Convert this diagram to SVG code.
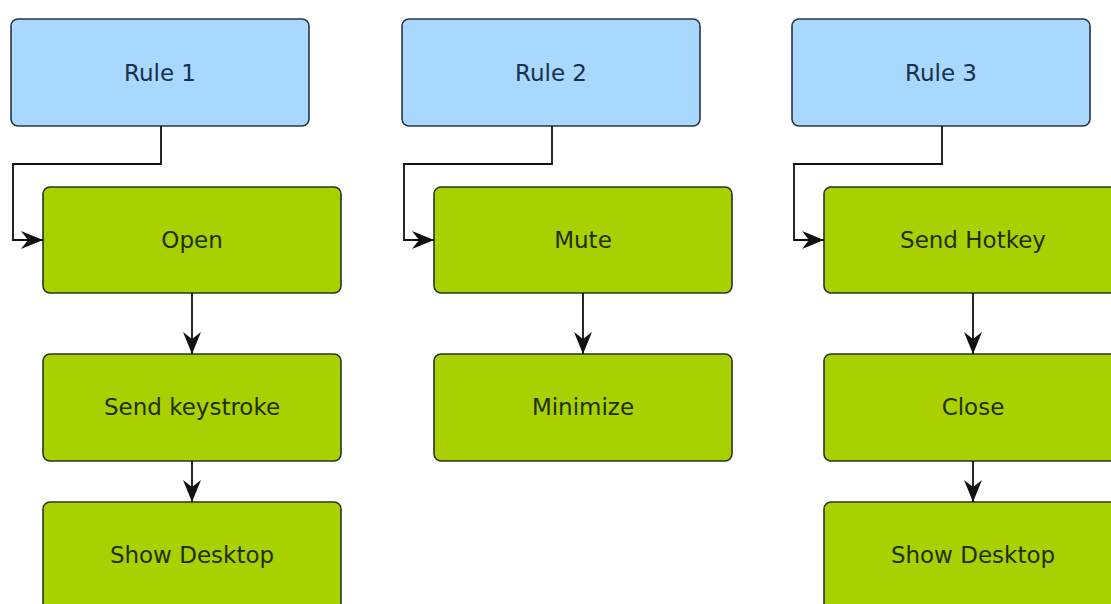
<svg xmlns="http://www.w3.org/2000/svg" width="1111" height="604" viewBox="0 0 1111 604">
  <defs>
    <marker id="arrow" markerUnits="userSpaceOnUse" markerWidth="24" markerHeight="20" viewBox="-23 -10 24 20" refX="0" refY="0" orient="auto">
      <path d="M0,0 L-22,-9 L-15,0 L-22,9 Z" fill="#111"/>
    </marker>
  </defs>
  <style>
    .rule rect { fill: #a8d8fe; stroke: #2b3440; stroke-width: 1.6; }
    .action rect { fill: #a9d101; stroke: #2b3320; stroke-width: 1.6; }
    text { font-family: "DejaVu Sans", Verdana, sans-serif; font-size: 23px; text-anchor: middle; }
    .rule text { fill: #1a3050; }
    .action text { fill: #1e3000; }
    .link { fill: none; stroke: #111; stroke-width: 1.8; marker-end: url(#arrow); }
  </style>
  <rect width="1111" height="604" fill="#ffffff"/>

  <!-- Column 1 -->
  <g id="rule1" class="rule"><rect x="11" y="19" width="298" height="107" rx="7"/><text x="160" y="81">Rule 1</text></g>
  <g id="open" class="action"><rect x="43" y="187" width="298" height="106" rx="7"/><text x="192" y="248">Open</text></g>
  <g id="sendKeystroke" class="action"><rect x="43" y="354" width="298" height="107" rx="7"/><text x="192" y="415">Send keystroke</text></g>
  <g id="showDesktop1" class="action"><rect x="43" y="502" width="298" height="120" rx="7"/><text x="192" y="563">Show Desktop</text></g>

  <!-- Column 2 -->
  <g id="rule2" class="rule"><rect x="402" y="19" width="298" height="107" rx="7"/><text x="551" y="81">Rule 2</text></g>
  <g id="mute" class="action"><rect x="434" y="187" width="298" height="106" rx="7"/><text x="583" y="248">Mute</text></g>
  <g id="minimize" class="action"><rect x="434" y="354" width="298" height="107" rx="7"/><text x="583" y="415">Minimize</text></g>

  <!-- Column 3 -->
  <g id="rule3" class="rule"><rect x="792" y="19" width="298" height="107" rx="7"/><text x="941" y="81">Rule 3</text></g>
  <g id="sendHotkey" class="action"><rect x="824" y="187" width="310" height="106" rx="7"/><text x="973" y="248">Send Hotkey</text></g>
  <g id="close" class="action"><rect x="824" y="354" width="310" height="107" rx="7"/><text x="973" y="415">Close</text></g>
  <g id="showDesktop3" class="action"><rect x="824" y="502" width="310" height="120" rx="7"/><text x="973" y="563">Show Desktop</text></g>

  <g id="connectors">
    <path class="link" d="M161,126 V164 H13 V240 H43"/>
    <path class="link" d="M192,293 V354"/>
    <path class="link" d="M192,461 V502"/>
    <path class="link" d="M552,126 V164 H404 V240 H434"/>
    <path class="link" d="M583,293 V354"/>
    <path class="link" d="M942,126 V164 H794 V240 H824"/>
    <path class="link" d="M973,293 V354"/>
    <path class="link" d="M973,461 V502"/>
  </g>
</svg>
